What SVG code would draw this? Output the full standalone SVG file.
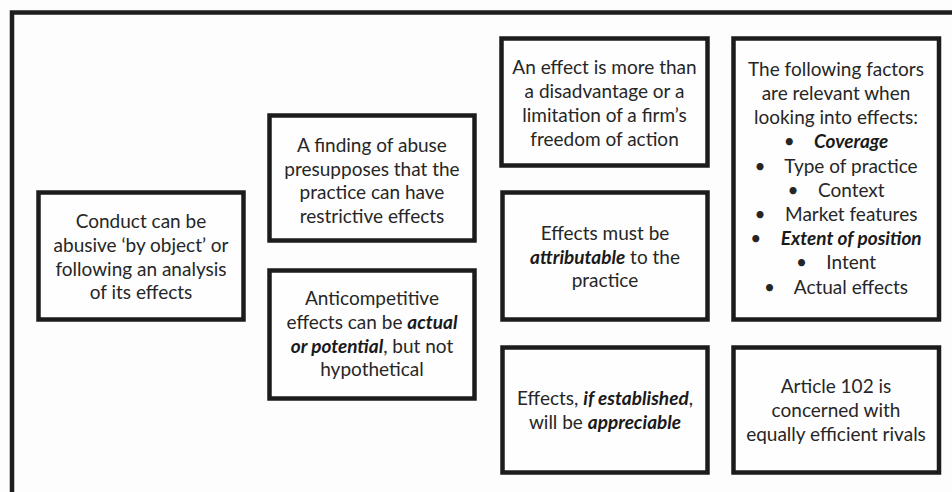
<svg xmlns="http://www.w3.org/2000/svg" width="952" height="492" viewBox="0 0 952 492">
<style>
.box{fill:#fefefe;stroke:#1c1c1c;stroke-width:4.5}
.outer{fill:#fdfdfd;stroke:#1e1e1e;stroke-width:4.5}
text{font-family:Lato,"Liberation Sans",sans-serif;font-size:19px;fill:#262626;text-anchor:middle}
.bi{font-weight:bold;font-style:italic;fill:#1a1a1a}
</style>
<rect x="0" y="0" width="952" height="492" fill="#fdfdfd"/>
<rect class="outer" x="12" y="12.5" width="970" height="510"/>
<g id="node-conduct">
<rect class="box" x="38.5" y="192.5" width="205" height="127"/>
<text x="141" y="228">Conduct can be</text>
<text x="141" y="252">abusive ‘by object’ or</text>
<text x="141" y="275.5">following an analysis</text>
<text x="141" y="299">of its effects</text>
</g>
<g id="node-finding">
<rect class="box" x="269.5" y="115.5" width="205" height="125"/>
<text x="372" y="152">A finding of abuse</text>
<text x="372" y="175.5">presupposes that the</text>
<text x="372" y="199">practice can have</text>
<text x="372" y="222.5">restrictive effects</text>
</g>
<g id="node-anticompetitive">
<rect class="box" x="269.5" y="270.5" width="205" height="128"/>
<text x="372" y="304.5">Anticompetitive</text>
<text x="372" y="328.5">effects can be <tspan class="bi">actual</tspan></text>
<text x="372" y="352.5"><tspan class="bi">or potential</tspan>, but not</text>
<text x="372" y="376">hypothetical</text>
</g>
<g id="node-effect-more">
<rect class="box" x="501.5" y="38.5" width="206" height="127"/>
<text x="604.5" y="74">An effect is more than</text>
<text x="604.5" y="98">a disadvantage or a</text>
<text x="604.5" y="122">limitation of a firm’s</text>
<text x="604.5" y="145.5">freedom of action</text>
</g>
<g id="node-attributable">
<rect class="box" x="502.5" y="192.5" width="205" height="127"/>
<text x="605" y="240">Effects must be</text>
<text x="605" y="263.5"><tspan class="bi">attributable</tspan> to the</text>
<text x="605" y="287">practice</text>
</g>
<g id="node-appreciable">
<rect class="box" x="502.5" y="347.5" width="205" height="125"/>
<text x="605" y="405">Effects, <tspan class="bi">if established</tspan>,</text>
<text x="605" y="428.5">will be <tspan class="bi">appreciable</tspan></text>
</g>
<g id="node-factors">
<rect class="box" x="733.5" y="38.5" width="205.5" height="281"/>
<text x="836" y="75.7">The following factors</text>
<text x="836" y="99.9">are relevant when</text>
<text x="836" y="124.1">looking into effects:</text>
<text x="836" y="148.3">•&#160;&#160;&#160;&#160;<tspan class="bi">Coverage</tspan></text>
<text x="836" y="172.5">•&#160;&#160;&#160;&#160;Type of practice</text>
<text x="836" y="196.7">•&#160;&#160;&#160;&#160;Context</text>
<text x="836" y="220.9">•&#160;&#160;&#160;&#160;Market features</text>
<text x="836" y="245.1">•&#160;&#160;&#160;&#160;<tspan class="bi">Extent of position</tspan></text>
<text x="836" y="269.3">•&#160;&#160;&#160;&#160;Intent</text>
<text x="836" y="293.5">•&#160;&#160;&#160;&#160;Actual effects</text>
</g>
<g id="node-article102">
<rect class="box" x="733.5" y="347.5" width="205.5" height="125"/>
<text x="836" y="392.7">Article 102 is</text>
<text x="836" y="416.7">concerned with</text>
<text x="836" y="441">equally efficient rivals</text>
</g>
<g id="connectors"></g>
</svg>
